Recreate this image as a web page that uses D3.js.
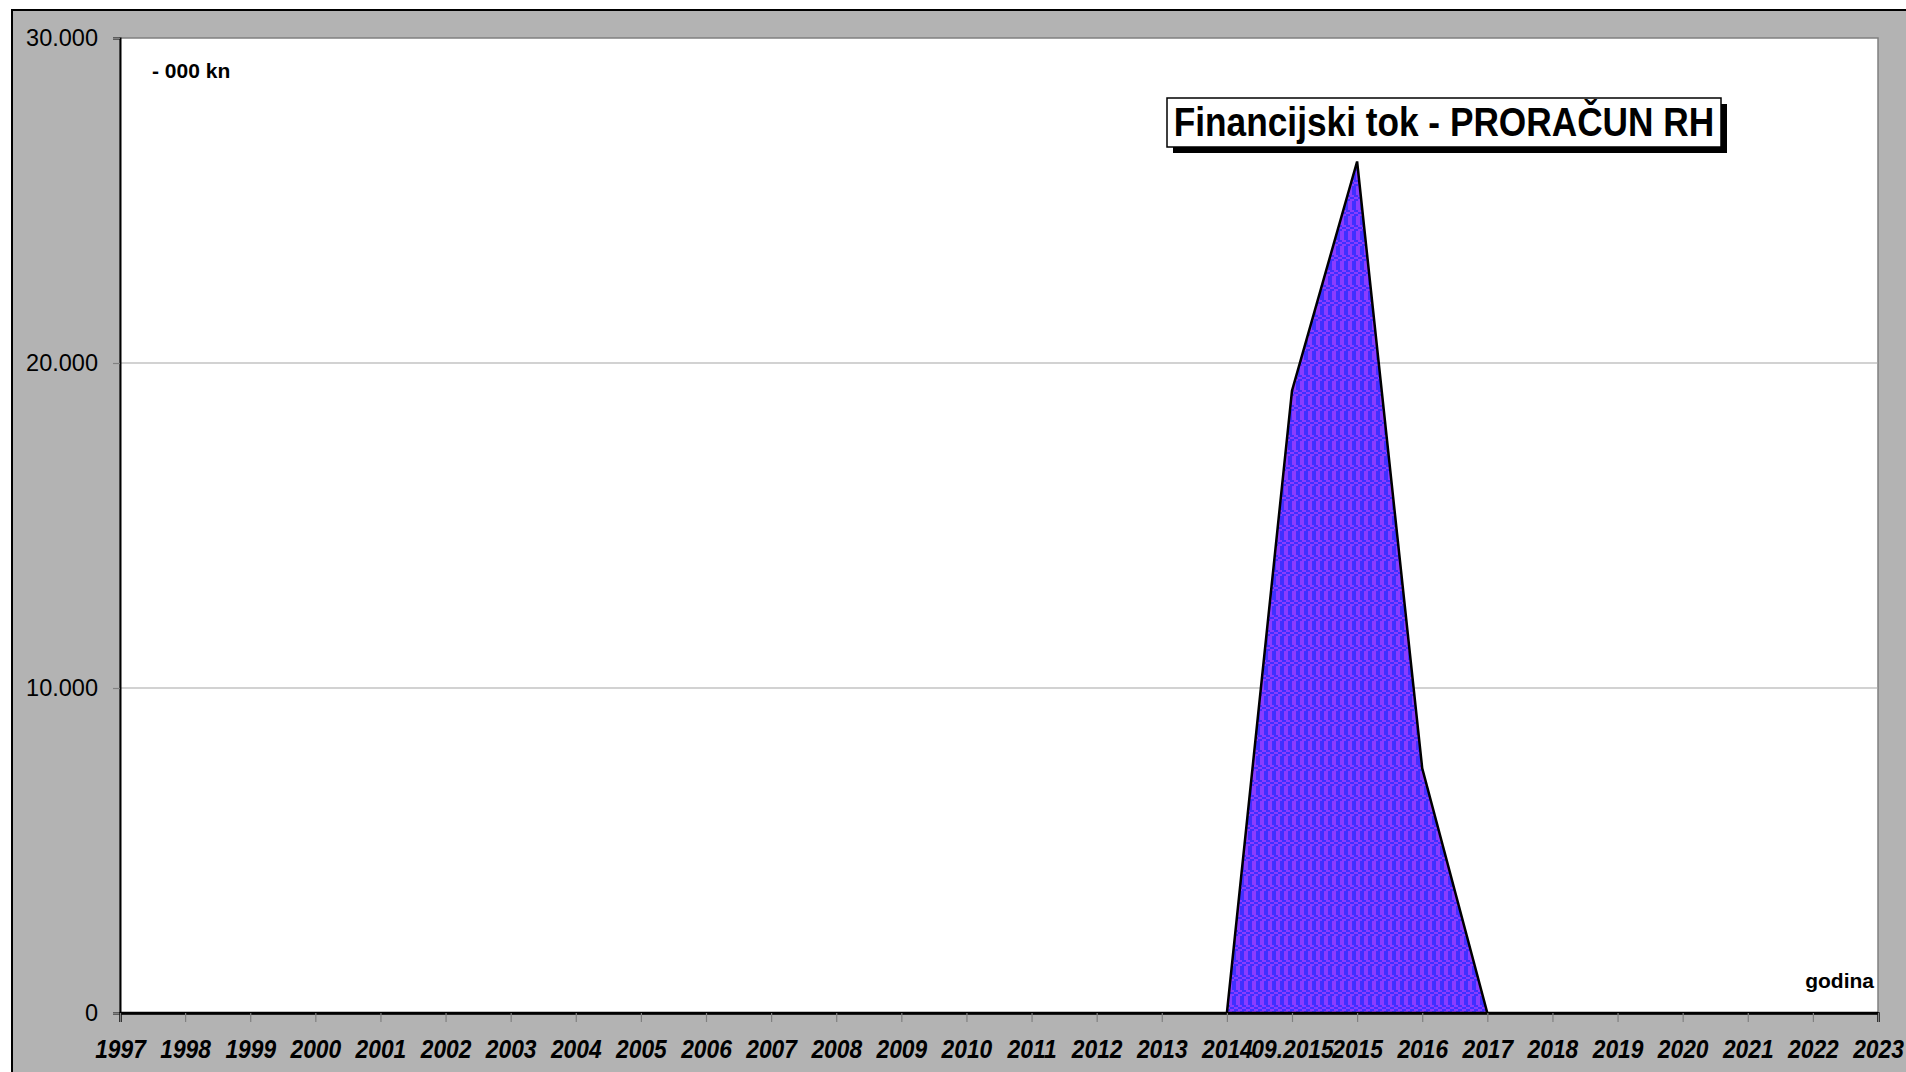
<!DOCTYPE html>
<html>
<head>
<meta charset="utf-8">
<script src="https://cdn.jsdelivr.net/npm/d3@7"></script>
<style>
  html, body { margin: 0; padding: 0; background: #fff; }
  svg { display: block; font-family: "Liberation Sans", Arial, sans-serif; }
</style>
</head>
<body>
<svg id="chart" width="1906" height="1072"></svg>
<script>
// categories on the x axis
const years = ['1997', '1998', '1999', '2000', '2001', '2002', '2003', '2004', '2005', '2006',
  '2007', '2008', '2009', '2010', '2011', '2012', '2013', '2014', '09.2015', '2015',
  '2016', '2017', '2018', '2019', '2020', '2021', '2022', '2023'];
// financijski tok, 000 kn
const values = [0, 0, 0, 0, 0, 0, 0, 0, 0, 0,
  0, 0, 0, 0, 0, 0, 0, 0, 19150, 26200,
  7530, 0, 0, 0, 0, 0, 0, 0];
const yTicks = [0, 10000, 20000, 30000];
const title = 'Financijski tok - PRORAČUN RH';
const unitLabel = '- 000 kn';
const axisLabel = 'godina';

const opts = {
  left: 120,
  right: 1878,
  top: 38,
  bottom: 1013,
  grey: '#b3b3b3',
};

const svg = d3.select('#chart');

// outer chart area (right / bottom edges run off the picture)
svg.append('rect')
  .attr('x', 12).attr('y', 10)
  .attr('width', 1920).attr('height', 1100)
  .attr('fill', opts.grey)
  .attr('stroke', '#000')
  .attr('stroke-width', 2);

const x = d3.scalePoint().domain(years).range([opts.left, opts.right]);
const y = d3.scaleLinear().domain([0, 30000]).range([opts.bottom, opts.top]);

// fill pattern
const defs = svg.append('defs');
const pat = defs.append('pattern')
  .attr('id', 'plaid')
  .attr('patternUnits', 'userSpaceOnUse')
  .attr('width', 8).attr('height', 15);
pat.append('rect').attr('width', 8).attr('height', 15).attr('fill', '#3f30ff');
pat.append('rect').attr('x', 4).attr('width', 4).attr('height', 15).attr('fill', '#8a3cff');
// little checks band
[[0, 0], [2, 2], [4, 0], [6, 2], [0, 4], [4, 4]].forEach(([cx, cy]) => {
  pat.append('rect').attr('x', cx).attr('y', cy).attr('width', 2).attr('height', 2)
    .attr('fill', cx >= 4 ? '#3f30ff' : '#8a3cff');
});

// plot area
svg.append('rect')
  .attr('x', opts.left).attr('y', opts.top)
  .attr('width', opts.right - opts.left).attr('height', opts.bottom - opts.top)
  .attr('fill', '#fff')
  .attr('stroke', '#808080')
  .attr('stroke-width', 1.5);

// gridlines
svg.append('g').selectAll('line').data(yTicks.filter(d => d > 0 && d < 30000)).enter()
  .append('line')
  .attr('x1', opts.left).attr('x2', opts.right)
  .attr('y1', d => y(d)).attr('y2', d => y(d))
  .attr('stroke', '#a6a6a6')
  .attr('stroke-width', 1.2);

// area
const area = d3.area()
  .x((d, i) => x(years[i]))
  .y0(y(0))
  .y1(d => y(d));

svg.append('path')
  .datum(values)
  .attr('d', area)
  .attr('fill', 'url(#plaid)')
  .attr('stroke', '#000')
  .attr('stroke-width', 2.5)
  .attr('stroke-linejoin', 'miter');

// y axis
const yAxis = svg.append('g')
  .attr('transform', `translate(${opts.left},0)`)
  .call(d3.axisLeft(y).tickValues(yTicks).tickSize(7).tickPadding(15)
    .tickFormat(d => d === 0 ? '0' : d3.format(',')(d).replace(/,/g, '.')));
yAxis.select('.domain').attr('stroke', '#000').attr('stroke-width', 2);
yAxis.selectAll('.tick line').attr('stroke', '#808080').attr('stroke-width', 1.2);
yAxis.selectAll('.tick text')
  .attr('fill', '#000')
  .style('font-size', '23.5px')
  .style('font-family', '"Liberation Sans", Arial, sans-serif');

// x axis
const xAxis = svg.append('g')
  .attr('transform', `translate(0,${opts.bottom})`)
  .call(d3.axisBottom(x).tickSize(9).tickPadding(17));
xAxis.select('.domain').attr('stroke', '#000').attr('stroke-width', 2.5);
xAxis.selectAll('.tick line').attr('stroke', '#808080').attr('stroke-width', 1.2);
xAxis.selectAll('.tick text')
  .attr('fill', '#000')
  .attr('transform', 'scale(0.86,1)')
  .style('font-size', '26.5px')
  .style('font-weight', 'bold')
  .style('font-style', 'italic')
  .style('font-family', '"Liberation Sans", Arial, sans-serif');

// unit label
svg.append('text')
  .attr('x', 152).attr('y', 78)
  .style('font-size', '21px').style('font-weight', 'bold')
  .text(unitLabel);

// axis name
svg.append('text')
  .attr('x', 1874).attr('y', 988)
  .attr('text-anchor', 'end')
  .style('font-size', '21px').style('font-weight', 'bold')
  .text(axisLabel);

// title box with shadow
const box = { x: 1167, y: 98, w: 554, h: 49 };
svg.append('rect')
  .attr('x', box.x + 6).attr('y', box.y + 6)
  .attr('width', box.w).attr('height', box.h)
  .attr('fill', '#000');
svg.append('rect')
  .attr('x', box.x).attr('y', box.y)
  .attr('width', box.w).attr('height', box.h)
  .attr('fill', '#fff')
  .attr('stroke', '#000')
  .attr('stroke-width', 1.5);
svg.append('text')
  .attr('transform', `translate(${box.x + box.w / 2},136) scale(0.86,1)`)
  .attr('text-anchor', 'middle')
  .style('font-size', '41px').style('font-weight', 'bold')
  .text(title);
</script>
</body>
</html>
